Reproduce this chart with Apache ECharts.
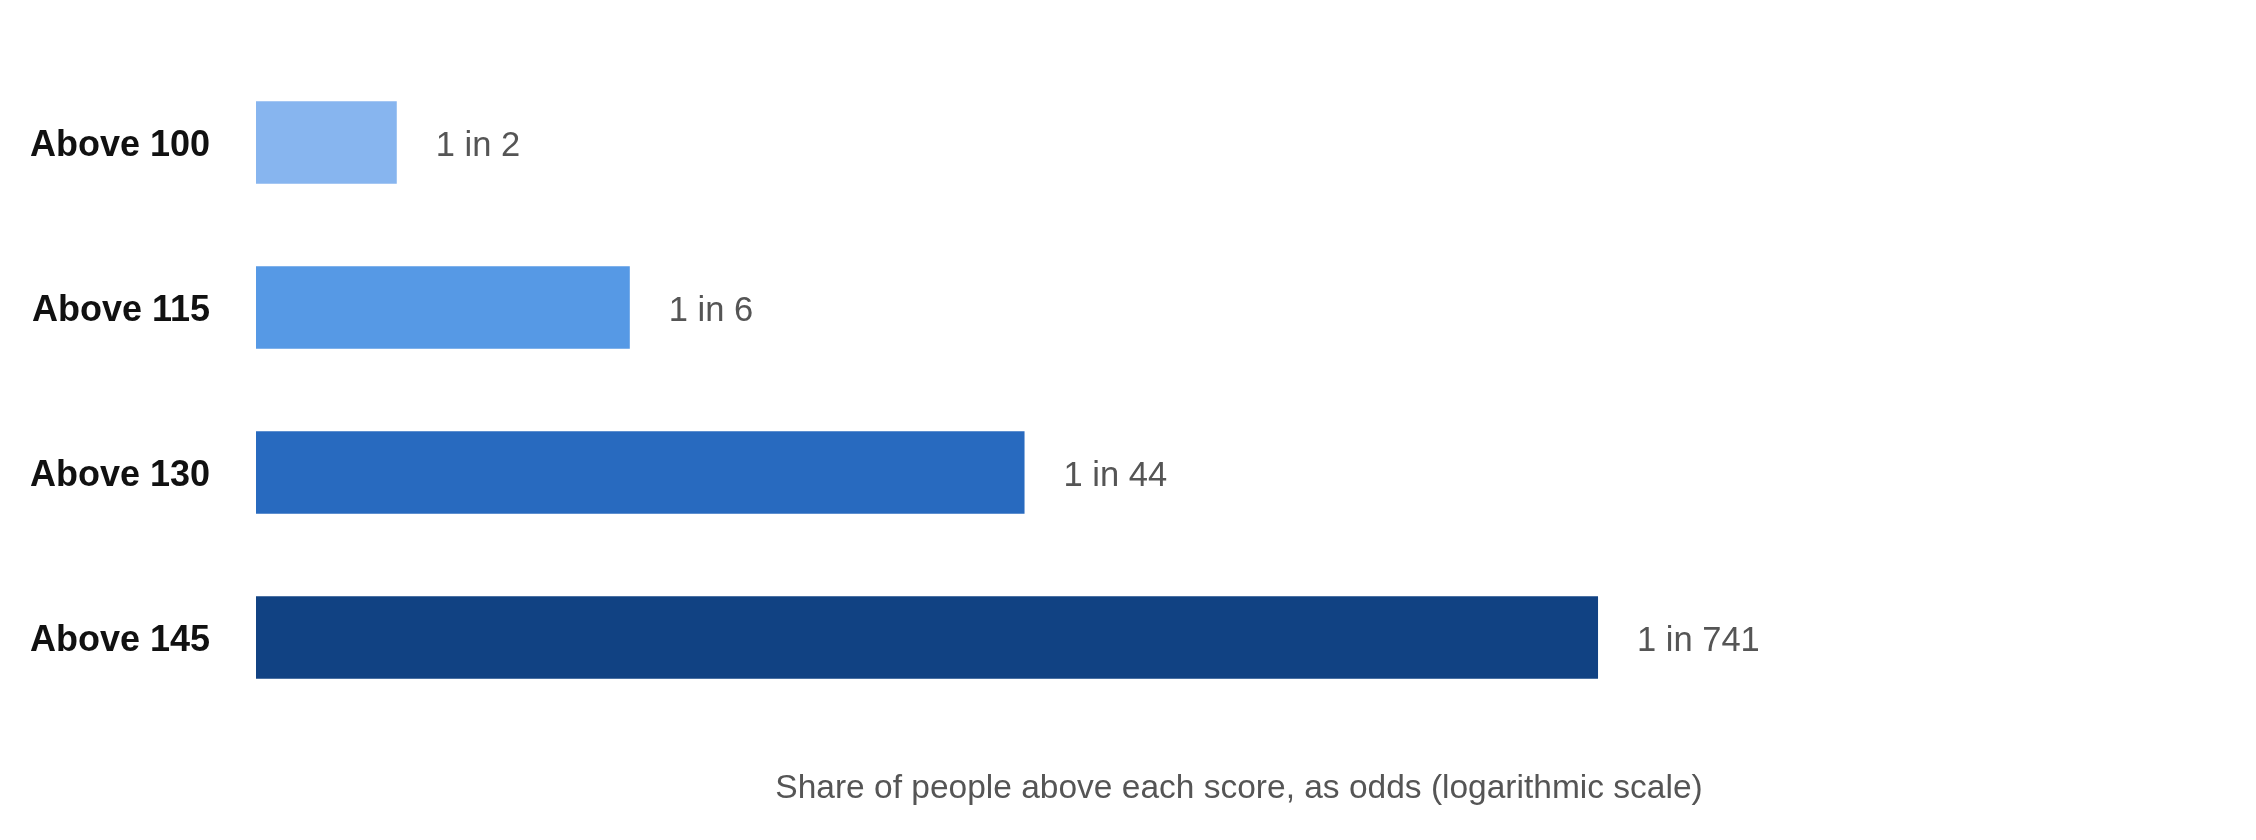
<!DOCTYPE html>
<html>
	<head>
		<meta charset="UTF-8">
		<title></title>
		<script src="https://cdn.jsdelivr.net/npm/echarts@6/dist/echarts.min.js"></script>
		<style type="text/css">
			html, body { margin: 0; padding: 0; background: #fff; }
		</style>
	</head>
	<body>
		<div id="box" style="width:2256px;height:840px;"></div>

		<script type="text/javascript">
			// data (odds = 1 / share above the score)
			var categories = ['Above 100', 'Above 115', 'Above 130', 'Above 145'];
			var odds = [2, 6.3, 44, 741];
			var barColors = ['#87b5ef', '#5699e5', '#286abf', '#114283'];
			var axisTitle = 'Share of people above each score, as odds (logarithmic scale)';

			var myChart = echarts.init(document.getElementById('box'));

			var option = {
				animation: false,
				grid: {
					left: 256,
					right: 34,
					top: 60,
					bottom: 120
				},
				xAxis: {
					type: 'log',
					logBase: 10,
					min: 1,
					max: 16000,
					name: axisTitle,
					nameLocation: 'middle',
					nameGap: 52,
					nameTextStyle: {
						fontFamily: 'Liberation Sans',
						fontSize: 33.5,
						color: '#555'
					},
					axisLine: { show: false },
					axisTick: { show: false },
					axisLabel: { show: false },
					splitLine: { show: false }
				},
				yAxis: {
					type: 'category',
					inverse: true,
					data: categories,
					axisLine: { show: false },
					axisTick: { show: false },
					axisLabel: {
						margin: 46,
						formatter: '{v|{value}}',
						rich: {
							v: {
								padding: [8, 0, 0, 0],
								fontFamily: 'Liberation Sans',
								fontWeight: 'bold',
								fontSize: 36,
								color: '#111'
							}
						}
					}
				},
				series: [{
					type: 'bar',
					barWidth: '50%',
					data: odds.map(function (v, i) {
						return { value: v, itemStyle: { color: barColors[i] } };
					}),
					label: {
						show: true,
						position: 'right',
						distance: 39,
						offset: [0, 4],
						fontFamily: 'Liberation Sans',
						fontSize: 34.5,
						color: '#555',
						formatter: function (p) {
							return '1 in ' + Math.round(p.value);
						}
					}
				}]
			};
			myChart.setOption(option);
		</script>
	</body>
</html>
